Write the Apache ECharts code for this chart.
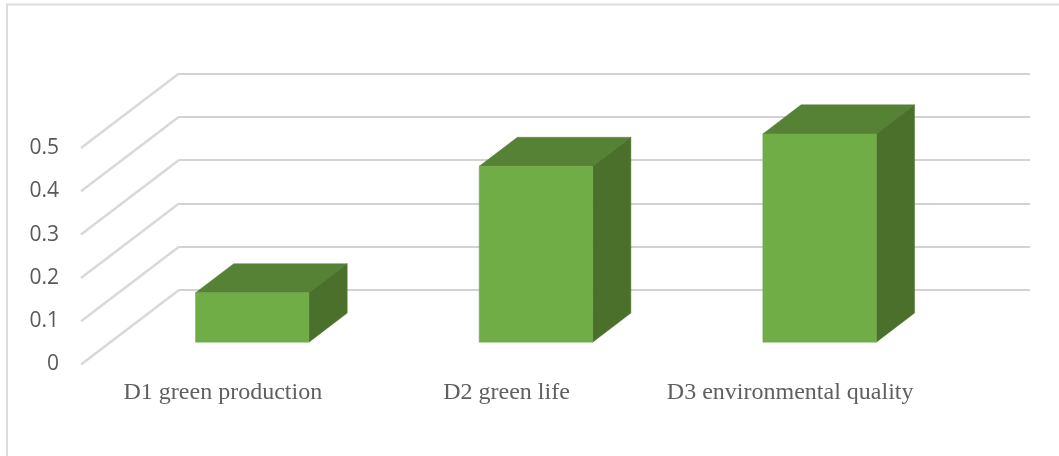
<!DOCTYPE html>
<html>
<head>
<meta charset="utf-8">
<style>html,body{margin:0;padding:0;background:#fff}#chart{width:1059px;height:456px}</style>
<script src="https://cdn.jsdelivr.net/npm/echarts@6/dist/echarts.min.js"></script>
</head>
<body>
<div id="chart"></div>
<script>
const categories = ['D1 green production', 'D2 green life', 'D3 environmental quality'];
const values = [0.114, 0.406, 0.481];
const valueTicks = [0, 0.1, 0.2, 0.3, 0.4, 0.5];

// Oblique projection: how far the floor's front edge sits from the back wall.
const FLOOR_DX = -98;
const FLOOR_DY = 74.5;
const BAR_FRONT = 0.7;   // depth of the bar's front face, as a share of the floor
const BAR_BACK = 0.31;   // depth of the bar's back face
const BAR_WIDTH = 0.4;   // bar width, as a share of the category band

const project = (pt, depth) => [pt[0] + FLOOR_DX * depth, pt[1] + FLOOR_DY * depth];
const poly = (points, fill) => ({
  type: 'polygon',
  shape: { points },
  style: { fill, stroke: fill, lineWidth: 0.5 }
});

const chart = echarts.init(document.getElementById('chart'), null, { renderer: 'canvas' });

chart.setOption({
  animation: false,
  backgroundColor: '#ffffff',
  graphic: [{
    type: 'polyline',
    silent: true,
    shape: { points: [[7, 456], [7, 4.5], [1059, 4.5]] },
    style: { stroke: '#dcdcdc', lineWidth: 2, fill: null }
  }],
  grid: [
    // back wall
    { left: 179, top: 73.5, width: 851, height: 216.5 },
    // front edge of the floor, carries the axis labels
    { left: 81, top: 148, width: 851, height: 216.5 }
  ],
  xAxis: [
    {
      type: 'category', gridIndex: 0, data: categories,
      axisLine: { show: false }, axisTick: { show: false }, axisLabel: { show: false }
    },
    {
      type: 'category', gridIndex: 1, data: categories,
      axisLine: { show: false }, axisTick: { show: false },
      axisLabel: {
        interval: 0, margin: 16,
        fontFamily: '"Liberation Serif", serif', fontSize: 24, color: '#5f5f5f'
      }
    }
  ],
  yAxis: [
    {
      type: 'value', gridIndex: 0, min: 0, max: 0.5, interval: 0.1,
      axisLine: { show: false }, axisTick: { show: false }, axisLabel: { show: false },
      splitLine: { show: true, lineStyle: { color: '#d2d2d2', width: 2 } }
    },
    {
      type: 'value', gridIndex: 1, min: 0, max: 0.5, interval: 0.1,
      axisLine: { show: false }, axisTick: { show: false }, splitLine: { show: false },
      axisLabel: {
        margin: 22,
        fontFamily: '"Open Sans", sans-serif', fontSize: 21, color: '#595959',
        formatter: v => String(v)
      }
    }
  ],
  series: [
    {
      // side-wall gridlines running from the back wall to the front edge
      type: 'custom',
      xAxisIndex: 0, yAxisIndex: 0,
      clip: false,
      silent: true,
      z: 1,
      data: valueTicks.map(v => [0, v]),
      renderItem(params, api) {
        const y = api.coord([0, api.value(1)])[1];
        const start = [params.coordSys.x, y];
        const end = project(start, 1);
        return {
          type: 'line',
          shape: { x1: start[0], y1: start[1], x2: end[0], y2: end[1] },
          style: { stroke: '#d9d9d9', lineWidth: 2.5 }
        };
      }
    },
    {
      // bars drawn as oblique boxes
      type: 'custom',
      xAxisIndex: 0, yAxisIndex: 0,
      clip: false,
      z: 3,
      data: values.map((v, i) => [i, v]),
      renderItem(params, api) {
        const i = api.value(0);
        const top = api.coord([i, api.value(1)]);
        const base = api.coord([i, 0]);
        const half = api.size([1, 0])[0] * BAR_WIDTH / 2;
        const tl = [top[0] - half, top[1]];
        const tr = [top[0] + half, top[1]];
        const br = [top[0] + half, base[1]];
        const bl = [top[0] - half, base[1]];
        const f = p => project(p, BAR_FRONT);
        const b = p => project(p, BAR_BACK);
        return {
          type: 'group',
          children: [
            poly([f(tl), f(tr), b(tr), b(tl)], '#568236'),
            poly([f(tr), b(tr), b(br), f(br)], '#4a702b'),
            poly([f(tl), f(tr), f(br), f(bl)], '#70ad47')
          ]
        };
      }
    }
  ]
});
</script>
</body>
</html>
